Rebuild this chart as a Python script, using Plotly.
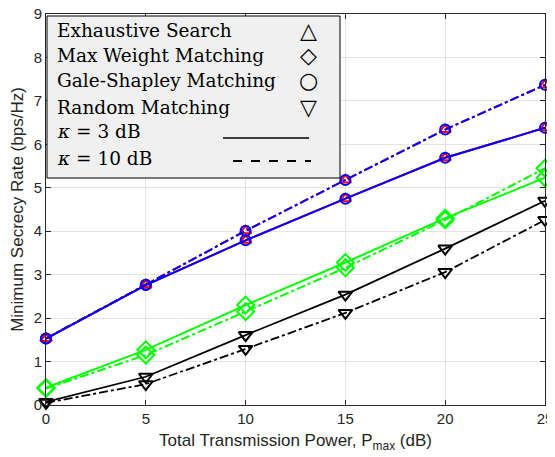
import plotly.graph_objects as go

power_db = [0, 5, 10, 15, 20, 25]

# kappa = 3 dB (solid)
exh_k3 = [1.53, 2.76, 3.79, 4.75, 5.69, 6.38]
gs_k3 = [1.53, 2.76, 3.79, 4.75, 5.69, 6.38]
mw_k3 = [0.40, 1.27, 2.30, 3.28, 4.30, 5.23]
rand_k3 = [0.07, 0.65, 1.61, 2.54, 3.60, 4.70]

# kappa = 10 dB (dash-dot)
exh_k10 = [1.53, 2.77, 4.01, 5.18, 6.34, 7.37]
gs_k10 = [1.53, 2.77, 4.01, 5.18, 6.34, 7.37]
mw_k10 = [0.38, 1.15, 2.15, 3.16, 4.26, 5.45]
rand_k10 = [0.05, 0.48, 1.29, 2.12, 3.06, 4.26]

legend_labels = ["Exhaustive Search", "Max Weight Matching", "Gale-Shapley Matching",
                 "Random Matching", "<i>κ</i> = 3 dB", "<i>κ</i> = 10 dB"]
legend_glyphs = ["△", "◇", "○", "▽"]

OFF = 8  # default page body margin
W, H = 555 - OFF, 457 - OFF
L, R, T, B = 46 - OFF, 10, 14 - OFF, 52
PW, PH = W - L - R, H - T - B

def px(x):  # page pixel -> paper x
    return (x - OFF - L) / PW

def py(y):  # page pixel -> paper y
    return (H - B - (y - OFF)) / PH

fig = go.Figure()

def add(y, color, symbol, dash, width, size):
    fig.add_trace(go.Scatter(
        x=power_db, y=y, mode="lines+markers",
        line=dict(color=color, width=width, dash=dash),
        marker=dict(symbol=symbol, size=size, color=color,
                    line=dict(color=color, width=2)),
        showlegend=False, cliponaxis=False))

add(rand_k10, "black", "triangle-down-open", "dashdot", 1.8, 12)
add(rand_k3, "black", "triangle-down-open", "solid", 1.8, 12)
add(mw_k10, "#00ff00", "diamond-open", "dashdot", 2, 13)
add(mw_k3, "#00ff00", "diamond-open", "solid", 2, 13)
add(exh_k10, "red", "triangle-up-open", "dashdot", 2, 10)
add(exh_k3, "red", "triangle-up-open", "solid", 2, 10)
add(gs_k10, "#0000ff", "circle-open", "dashdot", 2, 10)
add(gs_k3, "#0000ff", "circle-open", "solid", 2, 10)

axis_common = dict(showline=True, linecolor="#262626", linewidth=1, mirror="ticks",
                   ticks="inside", ticklen=5, tickcolor="#262626", automargin=False,
                   ticklabeloverflow="allow",
                   showgrid=True, gridcolor="#e3e3e3", gridwidth=1, zeroline=False,
                   tickfont=dict(family="Liberation Sans, Arial", size=15, color="#262626"))

fig.update_xaxes(range=[0, 25], tickvals=power_db, **axis_common,
                 title=dict(text="Total Transmission Power, P<sub>max</sub> (dB)",
                            font=dict(family="Liberation Sans, Arial", size=17, color="#262626"),
                            standoff=8))
fig.update_yaxes(range=[0, 9], dtick=1, **axis_common,
                 title=dict(text="Minimum Secrecy Rate (bps/Hz)",
                            font=dict(family="Liberation Sans, Arial", size=17, color="#262626"),
                            standoff=10))

# custom legend box
fig.add_shape(type="rect", xref="paper", yref="paper",
              x0=px(47), x1=px(340), y0=py(178), y1=py(16),
              fillcolor="#f0f0f0", line=dict(color="black", width=1), layer="above")

row_y = [30, 56, 81, 107, 132, 158]
for lbl, yy in zip(legend_labels, row_y):
    fig.add_annotation(xref="paper", yref="paper", x=px(55), y=py(yy), text=lbl,
                       showarrow=False, xanchor="left", yanchor="middle",
                       font=dict(family="DejaVu Serif", size=18.5, color="black"))
for g, yy in zip(legend_glyphs, row_y[:4]):
    fig.add_annotation(xref="paper", yref="paper", x=px(308), y=py(yy), text=g,
                       showarrow=False, xanchor="center", yanchor="middle",
                       font=dict(family="DejaVu Sans", size=22, color="black"))

fig.add_shape(type="line", xref="paper", yref="paper", x0=px(223), x1=px(309),
              y0=py(138), y1=py(138), line=dict(color="black", width=1.5), layer="above")
fig.add_shape(type="line", xref="paper", yref="paper", x0=px(233), x1=px(311),
              y0=py(161), y1=py(161), line=dict(color="black", width=2, dash="dash"), layer="above")

fig.update_layout(width=W, height=H, margin=dict(l=L, r=R, t=T, b=B),
                  plot_bgcolor="white", paper_bgcolor="white")

fig.write_html("out.html")
